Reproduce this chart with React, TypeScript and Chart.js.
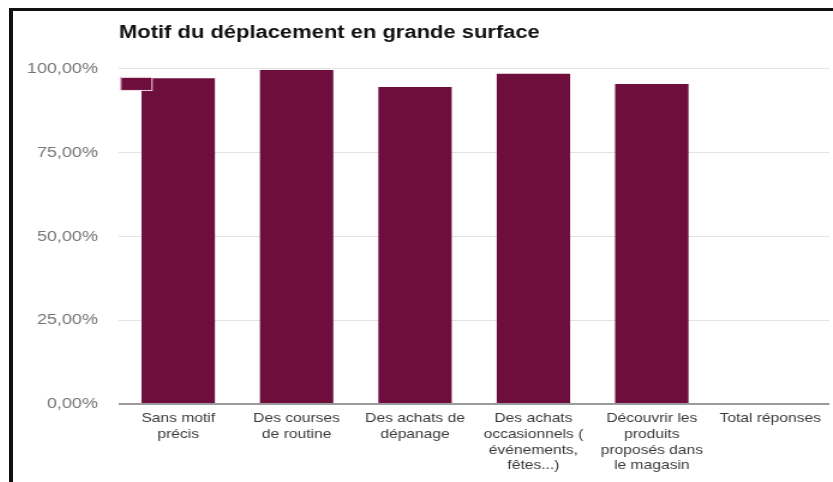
import React, { useEffect, useRef } from 'react';
import { Chart, registerables } from 'chart.js';

Chart.register(...registerables);

const chartTitle = 'Motif du déplacement en grande surface';
const categories: (string | string[])[] = [
  ['Sans motif', 'précis'],
  ['Des courses', 'de routine'],
  ['Des achats de', 'dépanage'],
  ['Des achats', 'occasionnels (', 'événements,', 'fêtes...)'],
  ['Découvrir les', 'produits', 'proposés dans', 'le magasin'],
  'Total réponses',
];
const values: (number | null)[] = [97.2, 99.7, 94.6, 98.6, 95.5, null];
const yMin = 0;
const yMax = 100;
const yStep = 25;

const BAR = '#6e0e3d';
const FONT = "'Liberation Sans', Arial, sans-serif";
const CW = 683; // canvas drawing width (stretched horizontally by CSS)
const CH = 471;

const swatchPlugin = {
  id: 'swatch',
  afterDatasetsDraw(chart: any) {
    const { ctx, chartArea: a } = chart;
    ctx.save();
    ctx.fillStyle = BAR;
    ctx.fillRect(a.left + 1, a.top + 8, 26, 13);
    ctx.strokeStyle = '#f2d6e2';
    ctx.lineWidth = 1;
    ctx.strokeRect(a.left + 1.5, a.top + 8.5, 26, 13);
    ctx.restore();
  },
};

export default function App() {
  const ref = useRef<HTMLCanvasElement | null>(null);
  useEffect(() => {
    if (!ref.current) return;
    const chart = new Chart(ref.current, {
      type: 'bar',
      data: {
        labels: categories,
        datasets: [
          {
            data: values,
            backgroundColor: BAR,
            borderWidth: 0,
            barPercentage: 0.62,
            categoryPercentage: 1,
          },
        ],
      },
      options: {
        animation: false,
        responsive: false,
        events: [],
        layout: { padding: { left: 0, right: 3, top: 0, bottom: 0 } },
        plugins: {
          legend: { display: false },
          tooltip: { enabled: false },
          title: {
            display: true,
            text: chartTitle,
            align: 'start',
            fullSize: false,
            color: '#111',
            font: { family: FONT, size: 18.3, weight: 'bold' },
            padding: { top: 11, bottom: 25 },
          },
        },
        scales: {
          x: {
            grid: { display: false, drawTicks: false },
            border: { display: false },
            ticks: {
              color: '#3a3a3a',
              font: { family: FONT, size: 13, lineHeight: 1.2 },
              padding: 7,
              maxRotation: 0,
              autoSkip: false,
            },
            afterFit(scale: any) {
              scale.height = 78;
            },
          },
          y: {
            min: yMin,
            max: yMax,
            border: { display: false },
            grid: {
              drawTicks: false,
              color: (c: any) => (c.tick && c.tick.value === 0 ? '#9a9a9a' : '#e2e2e2'),
              lineWidth: (c: any) => (c.tick && c.tick.value === 0 ? 2 : 1),
            },
            ticks: {
              stepSize: yStep,
              padding: 17.5,
              color: '#757575',
              font: { family: FONT, size: 15 },
              callback: (v: any) => Number(v).toFixed(2).replace('.', ',') + '%',
            },
            afterFit(scale: any) {
              scale.width = 88.3;
            },
          },
        },
      },
      plugins: [swatchPlugin],
    });
    return () => chart.destroy();
  }, []);

  return (
    <div
      style={{
        position: 'absolute',
        left: 9,
        top: 8,
        width: 824,
        height: 474,
        boxSizing: 'border-box',
        borderTop: '3px solid #111',
        borderLeft: '4px solid #111',
        background: '#fff',
        overflow: 'hidden',
      }}
    >
      <canvas
        ref={ref}
        width={CW}
        height={CH}
        style={{ display: 'block', width: '820px', height: '471px' }}
      />
    </div>
  );
}
